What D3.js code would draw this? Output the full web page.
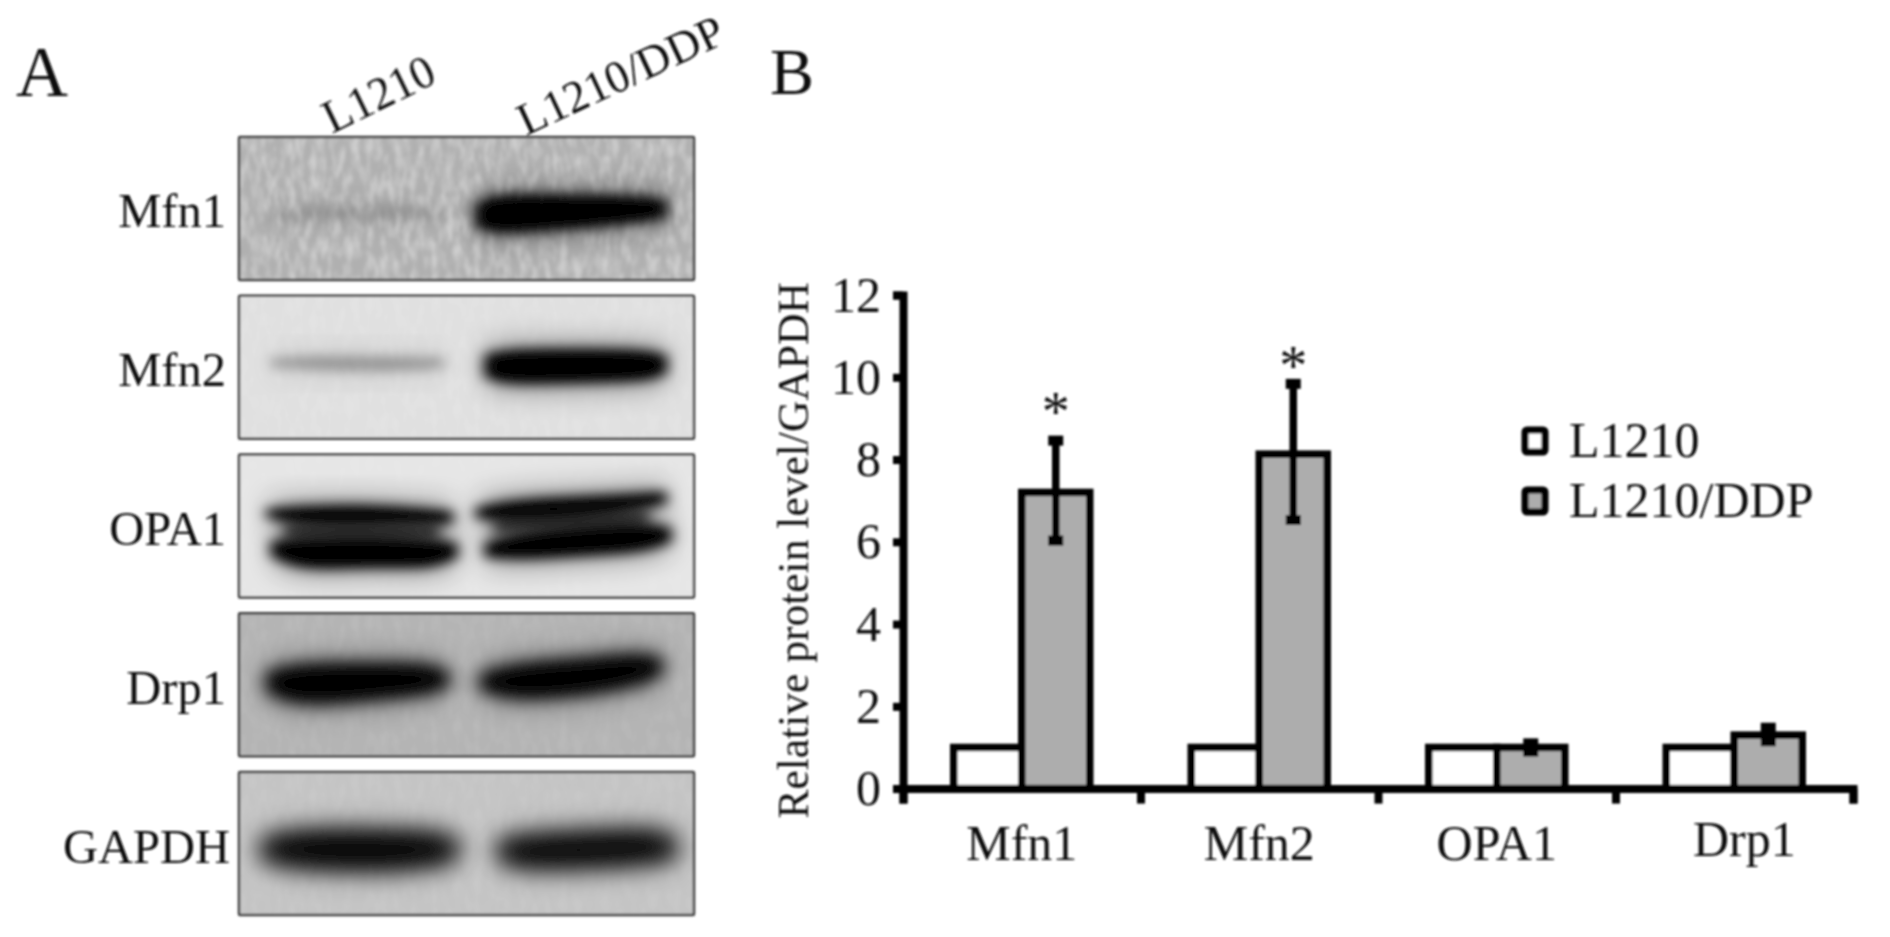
<!DOCTYPE html>
<html>
<head>
<meta charset="utf-8">
<script src="https://cdn.jsdelivr.net/npm/d3@7"></script>
<style>
  html, body { margin: 0; padding: 0; background: #fff; }
  svg { display: block; }
  text { font-family: "Liberation Serif", serif; fill: #111; }
</style>
</head>
<body>
<div id="chart"></div>
<script>
// bar chart values
var proteins = ["Mfn1", "Mfn2", "OPA1", "Drp1"];
var seriesNames = ["L1210", "L1210/DDP"];
var l1210Values = [1, 1, 1, 1];
var ddpValues = [7.2, 8.13, 1, 1.3];
var ddpErrLow = [6.03, 6.53, 0.9, 1.15];
var ddpErrHigh = [8.46, 9.84, 1.1, 1.48];
var starred = ["Mfn1", "Mfn2"];
var yTicks = [0, 2, 4, 6, 8, 10, 12];

// blot rows of panel A, top to bottom
var blotNames = ["Mfn1", "Mfn2", "OPA1", "Drp1", "GAPDH"];

// band outlines as [lane %, height %, half thickness %, darkness]
var mfn1Bands = [
  [[6, 54, 2, .16], [18, 54, 3.5, .2], [33, 53, 3.5, .2], [45, 54, 2, .14]],
  [[52, 55, 6, 1], [56, 54, 10, 1], [68, 53, 9, 1], [84, 51, 7.5, 1], [94, 50, 5, 1]]
];
var mfn2Bands = [
  [[7, 47, 2.5, .3], [18, 47, 4, .32], [32, 48, 4, .34], [45, 47, 3, .3]],
  [[54, 49, 6, 1], [58, 50, 10, 1], [75, 49, 9.5, 1], [90, 49, 9, 1], [94, 48, 5, 1]]
];
var opa1Bands = [
  [[6, 41, 2.5, 1], [14, 43, 5.5, 1], [30, 42, 5.5, 1], [47, 44, 3.5, 1]],
  [[7, 66, 4, 1], [14, 70, 9, 1], [30, 68, 8, 1], [42, 70, 8, 1], [48, 67, 4, 1]],
  [[10, 54, 5, .62], [44, 54, 5, .62]],
  [[52, 41, 3, 1], [60, 39, 6, 1], [80, 36, 5.5, 1], [94, 30, 3.5, 1]],
  [[54, 67, 4, 1], [62, 64, 7.5, 1], [78, 60, 8, 1], [90, 58, 7.5, 1], [95, 56, 4, 1]],
  [[56, 50, 5, .6], [90, 44, 5, .6]]
];
var drp1Bands = [
  [[6, 48, 6, 1], [13, 50, 13, 1], [28, 48, 11, 1], [40, 46, 10, 1], [46, 46, 5, 1]],
  [[53, 48, 5, 1], [60, 48, 11, 1], [75, 45, 11, 1], [88, 39, 10, 1], [93, 37, 5, 1]]
];
var gapdhBands = [
  [[5, 54, 6, .96], [12, 54, 12, .96], [30, 55, 13, .98], [42, 54, 11, .96], [48, 54, 6, .94]],
  [[57, 55, 6, .96], [63, 56, 11, .96], [78, 54, 11, .97], [90, 52, 11, .98], [96, 53, 6, .94]]
];
var blotBands = [mfn1Bands, mfn2Bands, opa1Bands, drp1Bands, gapdhBands];


// look of each blot row, nothing to do with the data above
var blotStyle = {
  Mfn1: {background: "#b0b0b0", noise: 0.38, blur: 7, grow: 1.4},
  Mfn2: {background: "#e0e0e0", noise: 0.12, blur: 7, grow: 1.25},
  OPA1: {background: "#e6e6e6", noise: 0.06, blur: 7, grow: 1.3},
  Drp1: {background: "#b4b4b4", noise: 0.08, blur: 9, grow: 1.15},
  GAPDH: {background: "#c4c4c4", noise: 0.08, blur: 12, grow: 1.05}
};

// set the dimensions of the page
var width = 1890, height = 937;

var svg = d3.select("#chart")
  .append("svg")
  .attr("width", width)
  .attr("height", height);

var defs = svg.append("defs");

defs.append("filter").attr("id", "soft")
  .append("feGaussianBlur").attr("stdDeviation", 0.8);

blotNames.forEach(function(name) {
  defs.append("filter").attr("id", "bandBlur" + name)
    .attr("x", "-20%").attr("y", "-100%").attr("width", "140%").attr("height", "300%")
    .append("feGaussianBlur")
    .attr("stdDeviation", blotStyle[name].blur + " " + (blotStyle[name].blur - 1));
});

var haloBlur = defs.append("filter").attr("id", "haloBlur")
  .attr("x", "-30%").attr("y", "-150%").attr("width", "160%").attr("height", "400%");
haloBlur.append("feGaussianBlur").attr("stdDeviation", "12 16");

// film grain, streaky in the vertical direction
var grain = defs.append("filter").attr("id", "grain")
  .attr("x", 0).attr("y", 0).attr("width", "100%").attr("height", "100%");
grain.append("feTurbulence")
  .attr("type", "fractalNoise")
  .attr("baseFrequency", "0.14 0.05")
  .attr("numOctaves", 3)
  .attr("seed", 7);
grain.append("feColorMatrix")
  .attr("values", "0 0 0 0 1  0 0 0 0 1  0 0 0 0 1  2.6 0 0 0 -1.0");
grain.append("feGaussianBlur").attr("stdDeviation", 0.8);

var root = svg.append("g").attr("filter", "url(#soft)");

// ---------- panel A ----------
var panelA = root.append("g");

panelA.append("text").attr("x", 16).attr("y", 96)
  .style("font-size", "72px").text("A");

var blotY = d3.scaleBand()
  .domain(blotNames)
  .range([137, 915])
  .paddingInner(0.1);

var laneX = d3.scaleLinear().domain([0, 100]).range([0, 455]);
var gelY = d3.scaleLinear().domain([0, 100]).range([0, blotY.bandwidth()]);

blotNames.forEach(function(name, i) {
  var style = blotStyle[name];

  // the outlines are widened a little, the blur eats into them
  var bandArea = d3.area()
    .x(function(d) { return laneX(d[0]); })
    .y0(function(d) { return gelY(d[1] - d[2] * style.grow); })
    .y1(function(d) { return gelY(d[1] + d[2] * style.grow); })
    .curve(d3.curveBasis);

  var g = panelA.append("g")
    .attr("transform", "translate(239," + blotY(name) + ")");

  defs.append("clipPath").attr("id", "clip" + i)
    .append("rect").attr("width", laneX(100)).attr("height", blotY.bandwidth());

  var inner = g.append("g").attr("clip-path", "url(#clip" + i + ")");

  inner.append("rect")
    .attr("width", laneX(100))
    .attr("height", blotY.bandwidth())
    .attr("fill", style.background);

  inner.append("rect")
    .attr("width", laneX(100))
    .attr("height", blotY.bandwidth())
    .attr("filter", "url(#grain)")
    .attr("opacity", style.noise);

  // soft smear round the band first, then the dense core
  inner.selectAll(".halo")
    .data(blotBands[i])
    .enter().append("path")
    .attr("class", "halo")
    .attr("d", bandArea)
    .attr("fill", "#000")
    .attr("opacity", function(d) { return d[0][3] * 0.6; })
    .attr("filter", "url(#haloBlur)");

  inner.selectAll(".core")
    .data(blotBands[i])
    .enter().append("path")
    .attr("class", "core")
    .attr("d", bandArea)
    .attr("fill", "#000")
    .attr("opacity", function(d) { return d[0][3]; })
    .attr("filter", "url(#bandBlur" + name + ")");

  g.append("rect")
    .attr("width", laneX(100))
    .attr("height", blotY.bandwidth())
    .attr("fill", "none")
    .attr("stroke", "#3c3c3c")
    .attr("stroke-width", 2.5)
    .attr("rx", 1);

  panelA.append("text")
    .attr("x", name === "GAPDH" ? 230 : 226)
    .attr("y", blotY(name) + blotY.bandwidth() / 2 + 19)
    .attr("text-anchor", "end")
    .style("font-size", "48.5px")
    .text(name);
});

// lane labels along the top of the blot
panelA.selectAll(".lane")
  .data(seriesNames)
  .enter().append("text")
  .attr("class", "lane")
  .attr("transform", function(d, i) {
    return i === 0 ? "translate(332,134) rotate(-26)" : "translate(526,136) rotate(-25)";
  })
  .style("font-size", "45.5px")
  .text(function(d) { return d; });

// ---------- panel B ----------
var margin = {top: 295, left: 903, right: 37, bottom: 148.4};
var plotW = width - margin.left - margin.right;
var plotH = height - margin.top - margin.bottom;

var panelB = root.append("g")
  .attr("transform", "translate(" + margin.left + "," + margin.top + ")");

root.append("text").attr("x", 770).attr("y", 94)
  .style("font-size", "66px").text("B");

var x0 = d3.scaleBand().domain(proteins).range([0, plotW]);
var x1 = d3.scaleBand()
  .domain(seriesNames)
  .range([x0.bandwidth() / 2 - 68, x0.bandwidth() / 2 + 68]);
var y = d3.scaleLinear().domain([0, 12]).range([plotH, 0]);

var barData = proteins.map(function(p, i) {
  return {protein: p, a: l1210Values[i], b: ddpValues[i], lo: ddpErrLow[i], hi: ddpErrHigh[i]};
});

var groups = panelB.selectAll(".group")
  .data(barData)
  .enter().append("g")
  .attr("class", "group")
  .attr("transform", function(d) { return "translate(" + x0(d.protein) + ",0)"; });

groups.append("rect")
  .attr("x", x1(seriesNames[0]))
  .attr("y", function(d) { return y(d.a); })
  .attr("width", x1.bandwidth())
  .attr("height", function(d) { return y(0) - y(d.a); })
  .attr("fill", "#fff")
  .attr("stroke", "#000")
  .attr("stroke-width", 7.5);

groups.append("rect")
  .attr("x", x1(seriesNames[1]))
  .attr("y", function(d) { return y(d.b); })
  .attr("width", x1.bandwidth())
  .attr("height", function(d) { return y(0) - y(d.b); })
  .attr("fill", "#adadad")
  .attr("stroke", "#000")
  .attr("stroke-width", 7.5);

// error bars, centred on the L1210/DDP bar
var errX = x1(seriesNames[1]) + x1.bandwidth() / 2;

groups.append("line")
  .attr("x1", errX).attr("x2", errX)
  .attr("y1", function(d) { return y(d.lo); })
  .attr("y2", function(d) { return y(d.hi); })
  .attr("stroke", "#000")
  .attr("stroke-width", 7.5);

groups.selectAll(".cap")
  .data(function(d) { return [d.lo, d.hi]; })
  .enter().append("line")
  .attr("class", "cap")
  .attr("x1", errX - 7.5).attr("x2", errX + 7.5)
  .attr("y1", function(d) { return y(d); })
  .attr("y2", function(d) { return y(d); })
  .attr("stroke", "#000")
  .attr("stroke-width", 10);

groups.filter(function(d) { return starred.indexOf(d.protein) >= 0; })
  .append("text")
  .attr("x", errX)
  .attr("y", function(d) { return y(d.hi) - (d.protein === "Mfn1" ? 29 : 18); })
  .attr("text-anchor", "middle")
  .style("font-size", "56px")
  .attr("dy", "0.35em")
  .text("*");

// y axis
var yAxis = panelB.append("g")
  .call(d3.axisLeft(y).tickValues(yTicks).tickSize(10).tickPadding(12));
yAxis.selectAll("text").style("font-size", "50px").style("font-family", "Liberation Serif");

// x axis: ticks sit on the group edges, the names sit between them
var xEdges = d3.scaleLinear().domain([0, proteins.length]).range([0, plotW]);
var xAxis = panelB.append("g")
  .attr("transform", "translate(0," + plotH + ")")
  .call(d3.axisBottom(xEdges).ticks(proteins.length).tickSize(15).tickFormat(""));

panelB.selectAll(".domain, .tick line")
  .attr("stroke", "#000")
  .attr("stroke-width", 8);

var xLabels = panelB.append("g")
  .attr("transform", "translate(0," + plotH + ")")
  .call(d3.axisBottom(x0).tickSize(0).tickPadding(0));
xLabels.select(".domain").remove();
xLabels.selectAll("text")
  .style("font-size", "50px")
  .style("font-family", "Liberation Serif")
  .attr("y", function(d) { return d === "Drp1" ? 32 : 36; })
  .attr("dx", function(d) { return d === "Drp1" ? 10 : 0; });

// y axis title
panelB.append("text")
  .attr("transform", "translate(-95," + (plotH + 30) + ") rotate(-90)")
  .style("font-size", "43.5px")
  .text("Relative protein level/GAPDH");

// legend
var legend = root.selectAll(".legend")
  .data(seriesNames)
  .enter().append("g")
  .attr("class", "legend")
  .attr("transform", function(d, i) { return "translate(1525," + (430 + i * 60) + ")"; });

legend.append("rect")
  .attr("width", 20).attr("height", 22)
  .attr("rx", 2)
  .attr("fill", function(d, i) { return i === 0 ? "#fff" : "#adadad"; })
  .attr("stroke", "#000")
  .attr("stroke-width", 7);

legend.append("text")
  .attr("x", 44).attr("y", 27)
  .style("font-size", "50px")
  .text(function(d) { return d; });
</script>
</body>
</html>
